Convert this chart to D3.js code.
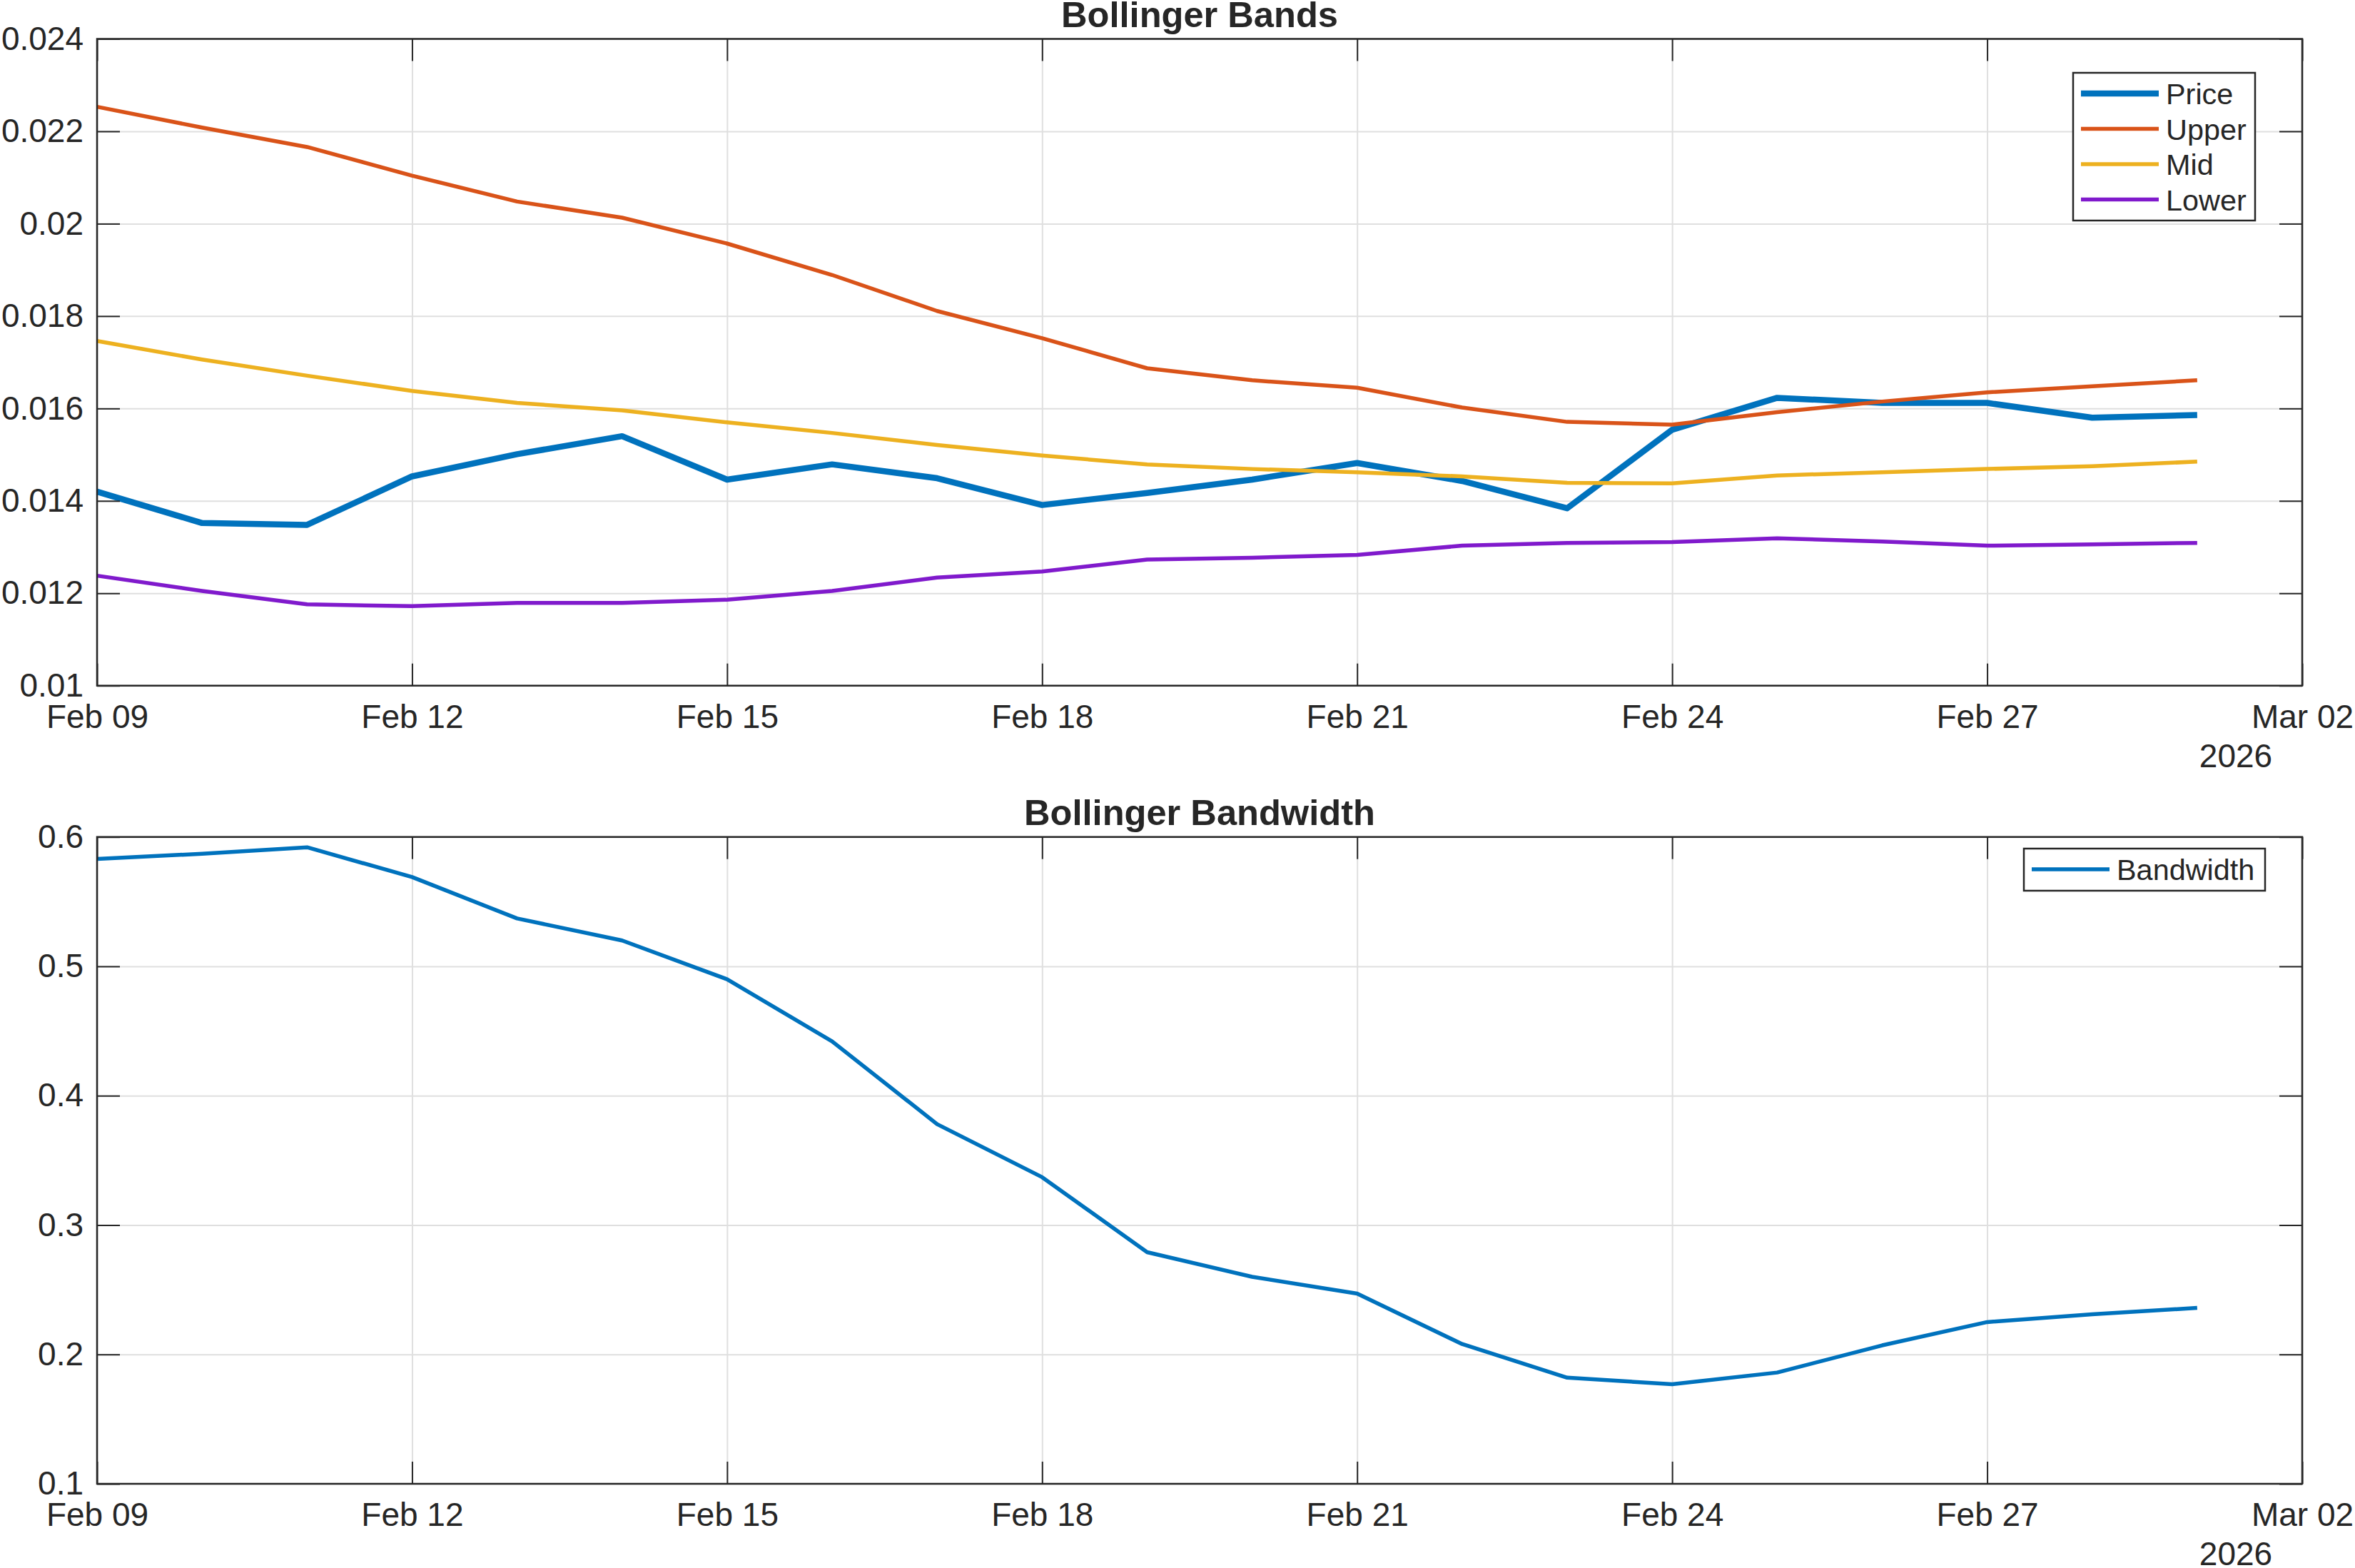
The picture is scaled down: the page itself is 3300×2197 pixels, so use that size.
<!DOCTYPE html>
<html><head><meta charset="utf-8">
<script src="https://cdn.jsdelivr.net/npm/d3@7"></script>
<style>
body{margin:0;background:#fff}
svg{display:block}
text{font-family:"Liberation Sans",Arial,Helvetica,sans-serif;fill:#262626}
</style>
</head><body><svg id="c" width="3300" height="2197"></svg>
<script>
// ---------- data ----------
const dates = ["2026-02-09","2026-02-10","2026-02-11","2026-02-12","2026-02-13","2026-02-14","2026-02-15",
  "2026-02-16","2026-02-17","2026-02-18","2026-02-19","2026-02-20","2026-02-21","2026-02-22",
  "2026-02-23","2026-02-24","2026-02-25","2026-02-26","2026-02-27","2026-02-28","2026-03-01"];
const price = [0.01420,0.01352,0.01348,0.01453,0.01501,0.01540,0.01446,0.01479,0.01449,0.01391,0.01417,
  0.01446,0.01482,0.01443,0.01384,0.01554,0.01623,0.01612,0.01612,0.01580,0.01586];
const upper = [0.02253,0.02208,0.02166,0.02104,0.02048,0.02013,0.01957,0.01889,0.01811,0.01752,0.01687,
  0.01661,0.01645,0.01602,0.01571,0.01565,0.01592,0.01615,0.01635,0.01648,0.01661];
const mid = [0.01746,0.01706,0.01671,0.01638,0.01612,0.01596,0.01570,0.01547,0.01521,0.01498,0.01479,
  0.01469,0.01462,0.01453,0.01439,0.01438,0.01455,0.01462,0.01469,0.01475,0.01485];
const lower = [0.01238,0.01205,0.01176,0.01172,0.01179,0.01179,0.01186,0.01205,0.01234,0.01247,0.01273,
  0.01277,0.01283,0.01303,0.01309,0.01311,0.01319,0.01312,0.01303,0.01306,0.01309];
const bandwidth = [0.583,0.587,0.592,0.569,0.537,0.520,0.490,0.442,0.378,0.337,0.279,
  0.260,0.247,0.208,0.182,0.177,0.186,0.207,0.225,0.231,0.236];
const xTickLabels = ["2026-02-09","2026-02-12","2026-02-15","2026-02-18","2026-02-21","2026-02-24","2026-02-27","2026-03-02"];
const bandTicks = [0.01,0.012,0.014,0.016,0.018,0.02,0.022,0.024];
const widthTicks = [0.1,0.2,0.3,0.4,0.5,0.6];
const yearLabel = "2026";
const titles = ["Bollinger Bands","Bollinger Bandwidth"];
const bandNames = ["Price","Upper","Mid","Lower"];
const widthNames = ["Bandwidth"];

// ---------- setup ----------
const W=3300,H=2197;
const svg=d3.select("#c");
svg.append("rect").attr("width",W).attr("height",H).attr("fill","#fff");
const parse=d3.utcParse("%Y-%m-%d");
const X0=136, X1=3226;
const x=d3.scaleUtc().domain([parse("2026-02-09"),parse("2026-03-02")]).range([X0,X1]);
const xt = xTickLabels.map(parse);
const dd = dates.map(parse);
const AX="#262626", GRID="#dfdfdf";
const FS=46, LFS=41.4, TFS=50.6;

function panel(top,bottom,yDomain,yTicks,yFmt,title,series,legend){
  const y=d3.scaleLinear().domain(yDomain).range([bottom,top]);
  const g=svg.append("g");
  const h=bottom-top, w=X1-X0;
  // grid
  const gx=g.append("g").attr("transform",`translate(0,${bottom})`)
    .call(d3.axisBottom(x).tickValues(xt).tickSize(-h).tickFormat(""));
  const gy=g.append("g").attr("transform",`translate(${X0},0)`)
    .call(d3.axisLeft(y).tickValues(yTicks).tickSize(-w).tickFormat(""));
  [gx,gy].forEach(a=>{a.select(".domain").remove();a.selectAll("line").attr("stroke",GRID).attr("stroke-width",2);});
  // lines
  series.forEach(s=>{
    const line=d3.line().x((d,i)=>x(dd[i])).y(d=>y(d));
    g.append("path").datum(s.values).attr("d",line).attr("fill","none")
      .attr("stroke",s.color).attr("stroke-width",s.width).attr("stroke-linejoin","round");
  });
  // axes
  const ab=g.append("g").attr("transform",`translate(0,${bottom})`)
    .call(d3.axisBottom(x).tickValues(xt).tickSize(-31).tickPadding(26).tickFormat(d3.utcFormat("%b %d")));
  const at=g.append("g").attr("transform",`translate(0,${top})`)
    .call(d3.axisTop(x).tickValues(xt).tickSize(-31).tickFormat(""));
  const al=g.append("g").attr("transform",`translate(${X0},0)`)
    .call(d3.axisLeft(y).tickValues(yTicks).tickSize(-32).tickPadding(19).tickFormat(yFmt));
  const ar=g.append("g").attr("transform",`translate(${X1},0)`)
    .call(d3.axisRight(y).tickValues(yTicks).tickSize(-32).tickFormat(""));
  [ab,at,al,ar].forEach(a=>{
    a.select(".domain").remove();
    a.selectAll("line").attr("stroke",AX).attr("stroke-width",2);
    a.selectAll("text").attr("font-size",FS).attr("fill",AX).attr("font-family","Liberation Sans, Arial, sans-serif");
  });
  ab.selectAll("text").attr("dy",null).attr("y",59);
  g.append("rect").attr("x",X0).attr("y",top).attr("width",w).attr("height",h)
    .attr("fill","none").attr("stroke",AX).attr("stroke-width",2.5);
  g.append("text").attr("x",3133).attr("y",bottom+114).attr("text-anchor","middle").attr("font-size",FS).text(yearLabel);
  g.append("text").attr("x",(X0+X1)/2).attr("y",top-17).attr("text-anchor","middle")
    .attr("font-size",TFS).attr("font-weight","bold").text(title);
  // legend
  const L=legend;
  g.append("rect").attr("x",L.x0).attr("y",L.y0).attr("width",L.x1-L.x0).attr("height",L.y1-L.y0)
    .attr("fill","#fff").attr("stroke",AX).attr("stroke-width",2.5);
  series.forEach((s,i)=>{
    const cy=L.rowY0+i*L.rowStep;
    g.append("line").attr("x1",L.lx0).attr("x2",L.lx0+109).attr("y1",cy).attr("y2",cy)
      .attr("stroke",s.color).attr("stroke-width",s.width);
    g.append("text").attr("x",L.lx0+119).attr("y",cy+15).attr("font-size",LFS).text(s.name);
  });
}

const C={blue:"#0072BD",orange:"#D95319",yellow:"#EDB120",purple:"#801ACC"};
panel(54.5,960.7,[0.01,0.024],bandTicks,v=>String(+v.toFixed(3)),titles[0],[
  {name:bandNames[0],values:price,color:C.blue,width:8.5},
  {name:bandNames[1],values:upper,color:C.orange,width:5.5},
  {name:bandNames[2],values:mid,color:C.yellow,width:5.5},
  {name:bandNames[3],values:lower,color:C.purple,width:5.5}],
  {x0:2905,x1:3160,y0:102,y1:309,lx0:2916,rowY0:131,rowStep:49.5});
panel(1172.7,2079,[0.1,0.6],widthTicks,v=>String(+v.toFixed(1)),titles[1],[
  {name:widthNames[0],values:bandwidth,color:C.blue,width:5.5}],
  {x0:2836,x1:3174,y0:1189,y1:1248,lx0:2847,rowY0:1218,rowStep:0});
</script></body></html>
